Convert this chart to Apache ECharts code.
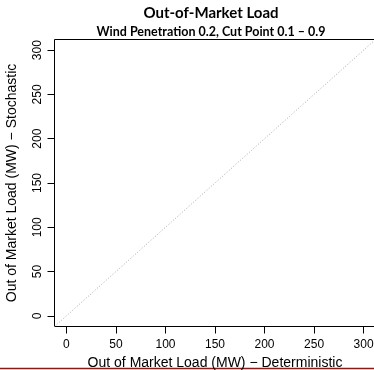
<!DOCTYPE html>
<html>
<head>
<meta charset="utf-8">
<script src="https://cdn.jsdelivr.net/npm/echarts@6/dist/echarts.min.js"></script>
<style>
  html, body { margin: 0; padding: 0; background: #fff; }
  #chart { width: 374px; height: 370px; }
</style>
</head>
<body>
<div id="chart"></div>
<script>
// Tick positions for both axes (MW)
const xTicks = [0, 50, 100, 150, 200, 250, 300];
const yTicks = [0, 50, 100, 150, 200, 250, 300];
// Axis extent: 0–300 padded by 4% on each side
const axisMin = -12;
const axisMax = 312;
// End points of the y = x reference line
const identityX = [-12, 312];

const titleText = 'Out-of-Market Load';
const subtitleText = 'Wind Penetration 0.2, Cut Point 0.1 \u2013 0.9';
const xAxisTitle = 'Out of Market Load (MW) \u2212 Deterministic';
const yAxisTitle = 'Out of Market Load (MW) \u2212 Stochastic';

const axisFont = 'Liberation Sans, Arial, Helvetica, sans-serif';
const titleFont = 'Lato, Carlito, Calibri, sans-serif';

const chart = echarts.init(document.getElementById('chart'), null, { renderer: 'canvas' });

chart.setOption({
  animation: false,
  backgroundColor: '#ffffff',
  grid: {
    left: 54.5,
    top: 39.5,
    width: 321,
    height: 287,
    containLabel: false,
    outerBoundsMode: 'none',
    show: true,
    borderColor: '#000000',
    borderWidth: 1,
    backgroundColor: 'transparent'
  },
  graphic: [
    {
      type: 'text',
      x: 211, y: 13,
      style: {
        text: titleText,
        font: 'bold 15px ' + titleFont,
        fill: '#000',
        align: 'center',
        verticalAlign: 'middle'
      }
    },
    {
      type: 'text',
      x: 211, y: 32,
      style: {
        text: subtitleText,
        font: 'bold 12.5px ' + titleFont,
        fill: '#000',
        align: 'center',
        verticalAlign: 'middle'
      }
    },
    {
      type: 'line',
      shape: { x1: 0, y1: 368.5, x2: 374, y2: 368.5 },
      style: { stroke: '#8b1a1a', lineWidth: 1.5 }
    }
  ],
  xAxis: {
    type: 'value',
    min: axisMin,
    max: axisMax,
    position: 'bottom',
    name: xAxisTitle,
    nameLocation: 'middle',
    nameGap: 30,
    nameTextStyle: { fontFamily: axisFont, fontSize: 14, color: '#000' },
    axisLine: { show: false, onZero: false },
    splitLine: { show: false },
    axisTick: {
      show: true,
      inside: false,
      length: 7,
      customValues: xTicks,
      lineStyle: { color: '#000', width: 1 }
    },
    axisLabel: {
      customValues: xTicks,
      margin: 12,
      fontFamily: axisFont,
      fontSize: 12,
      color: '#000'
    }
  },
  yAxis: {
    type: 'value',
    min: axisMin,
    max: axisMax,
    position: 'left',
    name: yAxisTitle,
    nameLocation: 'middle',
    nameGap: 35,
    nameRotate: 90,
    nameTextStyle: { fontFamily: axisFont, fontSize: 14, color: '#000' },
    axisLine: { show: false, onZero: false },
    splitLine: { show: false },
    axisTick: {
      show: true,
      inside: false,
      length: 7,
      customValues: yTicks,
      lineStyle: { color: '#000', width: 1 }
    },
    axisLabel: {
      customValues: yTicks,
      rotate: 90,
      margin: 11,
      fontFamily: axisFont,
      fontSize: 12,
      color: '#000'
    }
  },
  series: [
    {
      type: 'line',
      data: identityX.map(v => [v, v]),
      showSymbol: false,
      symbol: 'none',
      clip: true,
      lineStyle: { color: '#a8a8a8', width: 1, type: [1, 2] },
      silent: true
    }
  ]
});
</script>
</body>
</html>
